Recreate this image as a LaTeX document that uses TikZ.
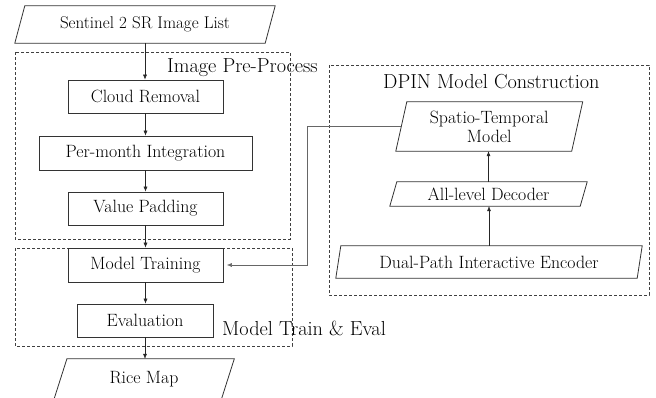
\documentclass[tikz,border=0pt]{standalone}
\usetikzlibrary{arrows.meta,calc}
\begin{document}
\begin{tikzpicture}[x=1pt,y=-1pt,
  box/.style={draw=black!80, line width=0.8pt, inner sep=0pt, font=\fontsize{17.8}{19}\selectfont},
  pnode/.style={draw=none, inner sep=0pt, align=center, font=\fontsize{17.8}{19}\selectfont},
  pline/.style={draw=black!80, line width=0.8pt},
  grp/.style={draw=black!75, dash pattern=on 3pt off 2pt, line width=0.7pt},
  lbl/.style={font=\fontsize{20.3}{24}\selectfont, inner sep=0pt, anchor=base west},
  arr/.style={-{Latex[length=5pt,width=4pt]}, line width=0.5pt, draw=black!85},
]
\clip (0,0) rectangle (656,397);
\fill[white] (0,0) rectangle (656,397);

% group frames
\draw[grp] (15,52) rectangle (290,239);
\draw[grp] (15,248) rectangle (292,346);
\draw[grp] (329,65) rectangle (649,295);

% group labels
\node[lbl] (lpre) at (167,72) {Image Pre-Process};
\node[lbl] (ltrain) at (222,335) {Model Train \& Eval};
\node[lbl] (ldpin) at (383,88) {DPIN Model Construction};

% rectangular steps
\node[box, minimum width=155pt, minimum height=33pt] (cloud) at (145.5,96.5) {Cloud Removal};
\node[box, minimum width=213pt, minimum height=34pt] (month) at (145.5,153) {Per-month Integration};
\node[box, minimum width=155pt, minimum height=33pt] (pad) at (145.5,208.5) {Value Padding};
\node[box, minimum width=155pt, minimum height=34pt] (train) at (145.5,265) {Model Training};
\node[box, minimum width=136pt, minimum height=33pt] (eval) at (145,320.5) {Evaluation};

% parallelograms
\node[pnode, minimum width=250pt, minimum height=37pt, font=\fontsize{17}{19}\selectfont] (sent) at (145,24.5) {Sentinel 2 SR Image List};
\draw[pline] ($(sent.north west)+(5,0)$) -- ($(sent.north east)+(5,0)$) -- ($(sent.south east)+(-5,0)$) -- ($(sent.south west)+(-5,0)$) -- cycle;

\node[pnode, minimum width=167pt, minimum height=41pt] (rice) at (144,379.5) {Rice Map};
\draw[pline] ($(rice.north west)+(6.6,0)$) -- ($(rice.north east)+(6.6,0)$) -- ($(rice.south east)+(-6.6,0)$) -- ($(rice.south west)+(-6.6,0)$) -- cycle;

\node[pnode, minimum width=175.5pt, minimum height=49pt] (spat) at (489.25,126.5) {Spatio-Temporal\\Model};
\draw[pline] ($(spat.north west)+(5.5,0)$) -- ($(spat.north east)+(5.5,0)$) -- ($(spat.south east)+(-5.5,0)$) -- ($(spat.south west)+(-5.5,0)$) -- cycle;

\node[pnode, minimum width=190pt, minimum height=24pt] (dec) at (488.5,194) {All-level Decoder};
\draw[pline] ($(dec.north west)+(3.5,0)$) -- ($(dec.north east)+(3.5,0)$) -- ($(dec.south east)+(-3.5,0)$) -- ($(dec.south west)+(-3.5,0)$) -- cycle;

\node[pnode, minimum width=301pt, minimum height=32pt] (enc) at (489,262) {Dual-Path Interactive Encoder};
\draw[pline] ($(enc.north west)+(2.5,0)$) -- ($(enc.north east)+(2.5,0)$) -- ($(enc.south east)+(-2.5,0)$) -- ($(enc.south west)+(-2.5,0)$) -- cycle;

% connectors
\draw[arr] (sent.south) -- (sent.south |- cloud.north);
\draw[arr] (cloud) -- (month);
\draw[arr] (month) -- (pad);
\draw[arr] (pad) -- (train);
\draw[arr] (train) -- (train |- eval.north);
\draw[arr] (eval.south) -- (eval.south |- rice.north);
\draw[arr] (enc.north) -- (enc.north |- dec.south);
\draw[arr] (dec.north) -- (dec.north |- spat.south);
\coordinate (bend) at (307,126.5);
\draw[arr, draw=black!60] (spat.west) -- (bend) |- ([xshift=3.5pt]train.east);
\end{tikzpicture}
\end{document}
